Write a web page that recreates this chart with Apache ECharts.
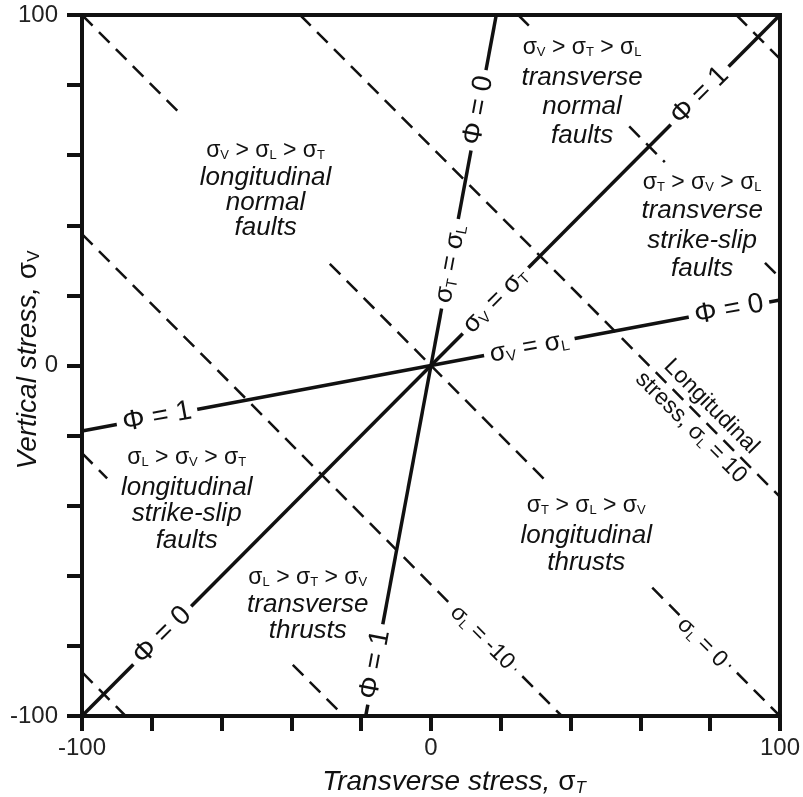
<!DOCTYPE html>
<html>
<head>
<meta charset="utf-8">
<script src="https://cdn.jsdelivr.net/npm/echarts@6/dist/echarts.min.js"></script>
<style>html,body{margin:0;padding:0;background:#fff}#c{width:803px;height:797px}</style>
</head>
<body>
<div id="c"></div>
<script>
// ---- data ----
const xTickLabels = [-100, 0, 100];
const yTickLabels = [-100, 0, 100];

// solid boundary lines (Φ = 0 / Φ = 1)
const lineDiagonal = [[-100, -100], [100, 100]];      // σV = σT
const lineSteep    = [[-18.7, -100], [18.7, 100]];    // σT = σL
const lineShallow  = [[-100, -18.7], [100, 18.7]];    // σV = σL

// dashed contours of longitudinal stress (visible pieces)
const dashedSegments = [
  [[87.5, 100], [100, 87.5]],
  [[25, 100], [28.5, 96.5]],
  [[56.8, 68.2], [67, 58]],
  [[95.7, 29.3], [100, 25]],
  [[-37.5, 100], [100, -37.5]],
  [[-100, 100], [-72, 72]],
  [[-29, 29], [32.5, -32.5]],
  [[63.4, -63.4], [100, -100]],
  [[-100, 37.5], [37.5, -100]],
  [[-100, -25], [-92.8, -32.2]],
  [[-39.6, -85.4], [-25, -100]],
  [[-100, -87.5], [-87.5, -100]]
];

// labels sitting on the solid lines
const lineLabelText = [
  '{ph|Φ = 0}', '{ls|σ}{lb|V}{ls| = σ}{lb|T}', '{ph|Φ = 1}',
  '{ph|Φ = 0}', '{ls|σ}{lb|T}{ls| = σ}{lb|L}', '{ph|Φ = 1}',
  '{ph|Φ = 1}', '{ls|σ}{lb|V}{ls| = σ}{lb|L}', '{ph|Φ = 0}'
];
const lineLabelPos = [
  [-77, -77], [18.5, 18.5], [77, 77],
  [13.6, 72.8], [5.6, 29], [-16, -85.3],
  [-78.5, -14.7], [28.2, 5.2], [85.4, 15.9]
];
const lineLabelRot = [45, 45, 45, 79.4, 79.4, 79.4, 10.6, 10.6, 10.6];

// labels on the dashed contours
const dashLabelText = [
  '{dt|Longitudinal}', '{dt|stress, σ}{db|L}{dt| = 10}',
  '{dt|σ}{db|L}{dt| = -10}', '{dt|σ}{db|L}{dt| = 0}'
];
const dashLabelPos = [[80.3, -11.7], [74.5, -17.7], [14.7, -77.6], [77.7, -79]];
const dashLabelRot = [-45, -45, -45, -45];

// region annotations (one entry per text line)
const regionText = [
  '{sg|σ}{sb|V}{sg| > σ}{sb|L}{sg| > σ}{sb|T}', '{it|longitudinal}', '{it|normal}', '{it|faults}',
  '{sg|σ}{sb|V}{sg| > σ}{sb|T}{sg| > σ}{sb|L}', '{it|transverse}', '{it|normal}', '{it|faults}',
  '{sg|σ}{sb|T}{sg| > σ}{sb|V}{sg| > σ}{sb|L}', '{it|transverse}', '{it|strike-slip}', '{it|faults}',
  '{sg|σ}{sb|L}{sg| > σ}{sb|V}{sg| > σ}{sb|T}', '{it|longitudinal}', '{it|strike-slip}', '{it|faults}',
  '{sg|σ}{sb|L}{sg| > σ}{sb|T}{sg| > σ}{sb|V}', '{it|transverse}', '{it|thrusts}',
  '{sg|σ}{sb|T}{sg| > σ}{sb|L}{sg| > σ}{sb|V}', '{it|longitudinal}', '{it|thrusts}'
];
const regionPos = [
  [-47.4, 61.3], [-47.4, 53.6], [-47.4, 46.5], [-47.4, 39.4],
  [43.3, 90.7], [43.3, 82.2], [43.3, 73.9], [43.3, 65.6],
  [77.7, 52.2], [77.7, 44.2], [77.7, 35.7], [77.7, 27.7],
  [-70, -26.2], [-70, -34.8], [-70, -42.2], [-70, -49.9],
  [-35.3, -60.5], [-35.3, -68.2], [-35.3, -75.6],
  [44.5, -39.9], [44.5, -48.5], [44.5, -56.2]
];

// ---- chart ----
const F = 'Liberation Sans, Arial, sans-serif';
const C = '#111';
const rich = {
  sg: {fontFamily: F, fontSize: 23, color: C},
  sb: {fontFamily: F, fontSize: 13, color: C, padding: [10, 0, 0, 0]},
  it: {fontFamily: F, fontSize: 26, fontStyle: 'italic', color: C},
  ph: {fontFamily: F, fontSize: 28, color: C},
  ls: {fontFamily: F, fontSize: 26, color: C},
  lb: {fontFamily: F, fontSize: 15, color: C, padding: [11, 0, 0, 0]},
  dt: {fontFamily: F, fontSize: 23, color: C},
  db: {fontFamily: F, fontSize: 13, color: C, padding: [10, 0, 0, 0]}
};

function lineSeries(data, width, dashed) {
  return {
    type: 'line', data: data, symbol: 'none', silent: true, z: 2,
    lineStyle: {color: C, width: width, type: dashed ? [15, 9] : 'solid', cap: 'butt', opacity: 1},
    clip: true
  };
}
function labelItems(pos, text, rot, bg, pad) {
  return pos.map((p, i) => ({
    value: p,
    label: {
      show: true, position: 'inside', rotate: rot ? rot[i] : 0,
      formatter: () => text[i], rich: rich, color: C, opacity: 1,
      backgroundColor: bg, padding: pad,
      align: 'center', verticalAlign: 'middle'
    }
  }));
}

const series = [];
[lineDiagonal, lineSteep, lineShallow].forEach(d => series.push(lineSeries(d, 3.5, false)));
dashedSegments.forEach(d => series.push(lineSeries(d, 2.5, true)));
series.push({
  type: 'scatter', symbolSize: 0, silent: true, z: 10,
  itemStyle: {opacity: 1},
  data: labelItems(lineLabelPos, lineLabelText, lineLabelRot, '#fff', [0, 6])
    .concat(labelItems(dashLabelPos, dashLabelText, dashLabelRot, '#fff', [0, 5]))
    .concat(labelItems(regionPos, regionText, null, 'transparent', 0))
});

const axisCommon = {
  type: 'value', min: -100, max: 100, interval: 20,
  axisLine: {show: true, onZero: false, lineStyle: {color: C, width: 4}},
  axisTick: {show: true, length: 15, lineStyle: {color: C, width: 4}},
  splitLine: {show: false}
};

const option = {
  animation: false,
  backgroundColor: '#fff',
  grid: {left: 82, top: 15, width: 699, height: 701, show: true, borderColor: C, borderWidth: 4},
  xAxis: Object.assign({}, axisCommon, {
    axisLabel: {margin: 20, fontSize: 24, fontFamily: F, color: '#222',
      formatter: v => xTickLabels.includes(v) ? String(v) : ''}
  }),
  yAxis: Object.assign({}, axisCommon, {
    axisLabel: {margin: 24, fontSize: 24, fontFamily: F, color: '#222',
      formatter: v => yTickLabels.includes(v) ? String(v) : ''}
  }),
  graphic: [
    {type: 'text', x: 454, y: 782, silent: true,
      style: {text: '{t|Transverse stress, }{s|σ}{u|T}', align: 'center', verticalAlign: 'middle',
        rich: {t: {fontFamily: F, fontSize: 28, fontStyle: 'italic', fill: C, color: C},
               s: {fontFamily: F, fontSize: 28, fill: C, color: C},
               u: {fontFamily: F, fontSize: 17, fontStyle: 'italic', fill: C, color: C, padding: [12, 0, 0, 0]}}}},
    {type: 'text', x: 28, y: 360, rotation: Math.PI / 2, silent: true,
      style: {text: '{t|Vertical stress, }{s|σ}{u|V}', align: 'center', verticalAlign: 'middle',
        rich: {t: {fontFamily: F, fontSize: 28, fontStyle: 'italic', fill: C, color: C},
               s: {fontFamily: F, fontSize: 28, fill: C, color: C},
               u: {fontFamily: F, fontSize: 17, fill: C, color: C, padding: [12, 0, 0, 0]}}}}
  ],
  series: series
};

const chart = echarts.init(document.getElementById('c'), null, {renderer: 'canvas'});
chart.setOption(option);
</script>
</body>
</html>
